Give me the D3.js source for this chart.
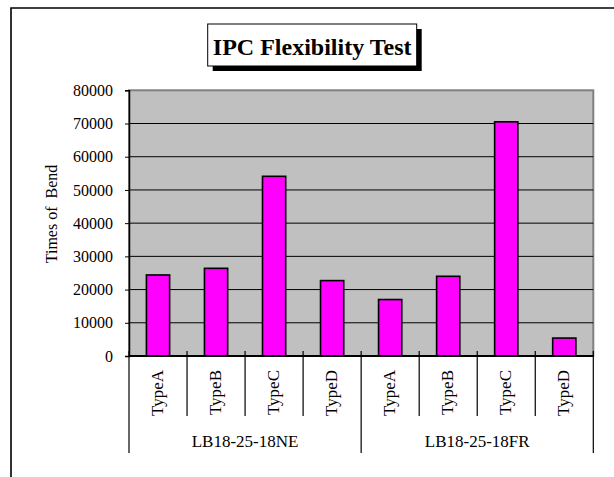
<!DOCTYPE html>
<html>
<head>
<meta charset="utf-8">
<script src="https://cdn.jsdelivr.net/npm/d3@7"></script>
<style>
  html, body { margin: 0; padding: 0; background: #fff; }
  svg { display: block; }
  svg text { font-family: "Liberation Serif", "Times New Roman", Tinos, serif !important; fill: #000; }
</style>
</head>
<body>
<svg id="chart" width="614" height="477"></svg>
<script>
const title = "IPC Flexibility Test";
const yLabel = "Times of  Bend";
const groups = ["LB18-25-18NE", "LB18-25-18FR"];
const types = ["TypeA", "TypeB", "TypeC", "TypeD"];
const valuesNE = [24400, 26400, 54100, 22700];
const valuesFR = [17000, 24000, 70500, 5400];
const yTicks = [0, 10000, 20000, 30000, 40000, 50000, 60000, 70000, 80000];

const data = [];
[valuesNE, valuesFR].forEach((vals, gi) => {
  vals.forEach((v, ti) => data.push({ group: groups[gi], type: types[ti], key: gi + "-" + ti, value: v }));
});

const serif = '"Liberation Serif", "Times New Roman", serif';
const svg = d3.select("#chart");
const pLeft = 129, pRight = 593.3, pTop = 90.3, pBottom = 356;

const x = d3.scaleBand().domain(data.map(d => d.key)).range([pLeft, pRight]).paddingInner(0.6).paddingOuter(0.3);
const y = d3.scaleLinear().domain([0, 80000]).range([pBottom, pTop]);
const step = x.step();

// outer frame (cropped at right/bottom)
svg.append("path").attr("d", "M11,477 L11,8 L614,8").attr("fill", "none").attr("stroke", "#000").attr("stroke-width", 1.6);

// title box with shadow
const tb = { x: 207.7, y: 24, w: 209, h: 42 };
svg.append("rect").attr("x", tb.x + 5).attr("y", tb.y + 5).attr("width", tb.w).attr("height", tb.h).attr("fill", "#000");
svg.append("rect").attr("x", tb.x).attr("y", tb.y).attr("width", tb.w).attr("height", tb.h).attr("fill", "#fff").attr("stroke", "#000").attr("stroke-width", 1);
svg.append("text").attr("x", tb.x + tb.w / 2).attr("y", 55).attr("text-anchor", "middle")
  .style("font-family", serif).style("font-weight", "bold").style("font-size", "24px").text(title);

// plot area
svg.append("rect").attr("x", pLeft).attr("y", pTop).attr("width", pRight - pLeft).attr("height", pBottom - pTop)
  .attr("fill", "#c0c0c0").attr("stroke", "#808080").attr("stroke-width", 2);

// gridlines
svg.append("g").selectAll("line").data(yTicks.filter(t => t > 0 && t < 80000)).join("line")
  .attr("x1", pLeft).attr("x2", pRight).attr("y1", d => y(d)).attr("y2", d => y(d))
  .attr("stroke", "#000").attr("stroke-width", 1);

// y axis
const yAxis = d3.axisLeft(y).tickValues(yTicks).tickSize(4).tickPadding(12).tickFormat(d3.format("d"));
const gy = svg.append("g").attr("transform", `translate(${pLeft},0)`).call(yAxis);
gy.attr("font-family", null).attr("font-size", null);
gy.select(".domain").attr("stroke", "#000").attr("stroke-width", 1.5);
gy.selectAll(".tick line").attr("stroke", "#000");
gy.selectAll(".tick text").style("font-size", "16px").style("font-family", serif).attr("fill", "#000");

// y label
svg.append("text").attr("transform", `translate(57,214) rotate(-90)`).attr("text-anchor", "middle")
  .style("font-family", serif).style("font-size", "16px").style("white-space", "pre").text(yLabel);

// bars
svg.append("g").selectAll("rect").data(data).join("rect")
  .attr("x", d => x(d.key)).attr("width", x.bandwidth())
  .attr("y", d => y(d.value)).attr("height", d => y(0) - y(d.value))
  .attr("fill", "#ff00ff").attr("stroke", "#000").attr("stroke-width", 1.6);

// x axis line
svg.append("line").attr("x1", pLeft).attr("x2", pRight).attr("y1", pBottom).attr("y2", pBottom)
  .attr("stroke", "#000").attr("stroke-width", 2);

// category separators
const boundaries = d3.range(data.length + 1);
svg.append("g").selectAll("line").data(boundaries).join("line")
  .attr("x1", i => pLeft + i * step).attr("x2", i => pLeft + i * step)
  .attr("y1", 351).attr("y2", i => (i % types.length === 0) ? 453 : 416)
  .attr("stroke", "#000").attr("stroke-width", 1.2);

// type labels (rotated)
svg.append("g").selectAll("text").data(data).join("text")
  .attr("transform", d => `translate(${x(d.key) + x.bandwidth() / 2 + 4.5},370) rotate(-90)`)
  .attr("text-anchor", "end").style("font-family", serif).style("font-size", "17px").text(d => d.type);

// group labels
svg.append("g").selectAll("text").data(groups).join("text")
  .attr("x", (g, i) => pLeft + (i * types.length + types.length / 2) * step)
  .attr("y", 447).attr("text-anchor", "middle").style("font-family", serif).style("font-size", "17px").text(g => g);
</script>
</body>
</html>
